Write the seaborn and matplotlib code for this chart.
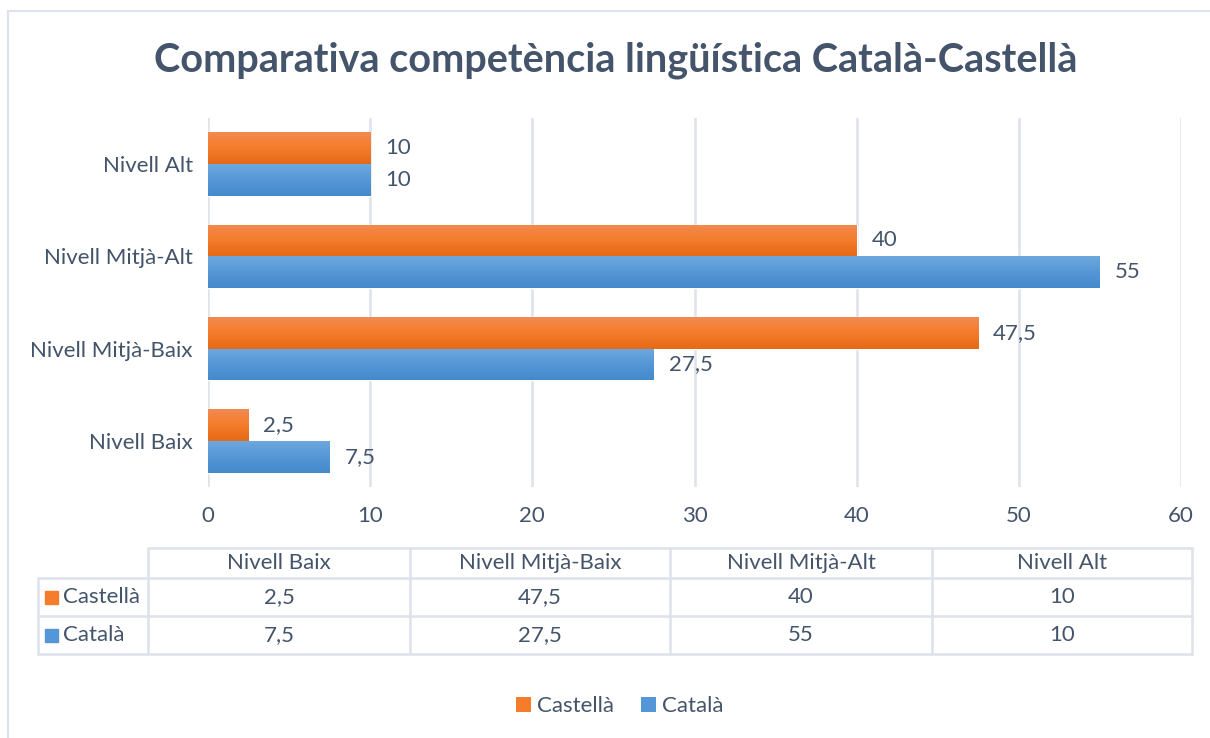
import numpy as np
import pandas as pd
import matplotlib
matplotlib.use('Agg')
import matplotlib.pyplot as plt
import seaborn as sns
from matplotlib.colors import LinearSegmentedColormap
from matplotlib.patches import Rectangle, Patch

levels = ['Nivell Baix', 'Nivell Mitjà-Baix', 'Nivell Mitjà-Alt', 'Nivell Alt']
castella = [2.5, 47.5, 40, 10]
catala = [7.5, 27.5, 55, 10]
series = ['Castellà', 'Català']
xticks = [0, 10, 20, 30, 40, 50, 60]

def fmt(v):
    return f'{v:g}'.replace('.', ',')

df = pd.DataFrame({
    'level': levels * 2,
    'value': castella + catala,
    'serie': ['Castellà'] * 4 + ['Català'] * 4,
})

txt = '#44546A'
grid = '#DDE3EA'
font = 'Lato'
fs = 16

sns.set_theme(style='white')
plt.rcParams['font.family'] = [font, 'DejaVu Sans']

fig = plt.figure(figsize=(12.1, 7.38), dpi=100)
W, H = 1210, 738

# outer chart border (runs off right/bottom)
fig.add_artist(Rectangle((7.5 / W, -0.1), 1.2, 1 - 10.5 / H + 0.1, transform=fig.transFigure,
                         fill=False, edgecolor='#DDE3EC', lw=1.5))

ax = fig.add_axes([208 / W, 1 - 487 / H, (1181 - 208) / W, (487 - 118) / H])
pal = {'Castellà': '#F47C2A', 'Català': '#5597D6'}
sns.barplot(data=df, y='level', x='value', hue='serie', order=levels[::-1],
            hue_order=series, palette=pal, orient='h', width=0.69, ax=ax,
            legend=False, saturation=1)

ax.set_xlim(0, 60)
ax.set_ylim(3.5, -0.5)
ax.set_xticks(xticks)
ax.set_xticklabels([str(t) for t in xticks])
for s in ax.spines.values():
    s.set_visible(False)
ax.grid(axis='x', color=grid, lw=1.8)
ax.set_axisbelow(True)
ax.set_xlabel('')
ax.set_ylabel('')
ax.tick_params(axis='x', length=0, pad=14, labelsize=fs, labelcolor=txt)
ax.tick_params(axis='y', length=0, pad=11, labelsize=fs, labelcolor=txt)

# gradient fill on bars
grads = {
    'Castellà': LinearSegmentedColormap.from_list('o', ['#F28A52', '#F47C2A', '#E56917']),
    'Català': LinearSegmentedColormap.from_list('b', ['#6DA8DE', '#5597D6', '#4589CC']),
}
for cont, name in zip(ax.containers, series):
    for bar, v in zip(cont, cont.datavalues):
        x0, y0 = bar.get_x(), bar.get_y()
        w, h = bar.get_width(), bar.get_height()
        im = ax.imshow(np.linspace(0, 1, 64).reshape(-1, 1), cmap=grads[name], aspect='auto',
                       extent=(x0, x0 + w, y0 + h, y0), zorder=bar.get_zorder() + 0.1)
        im.set_clip_path(bar)
        ax.text(x0 + w + 0.92, y0 + h / 2, fmt(v), va='center', ha='left',
                fontsize=fs, color=txt)
ax.set_xlim(0, 60)
ax.set_ylim(3.5, -0.5)

fig.text(616 / W, 1 - 60 / H, 'Comparativa competència lingüística Català-Castellà',
         ha='center', va='center', fontsize=28.5, fontweight='bold', color=txt)

# data table
tab = fig.add_axes([0, 0, 1, 1], facecolor='none')
tab.set_xlim(0, W)
tab.set_ylim(H, 0)
tab.axis('off')
cols = [148, 410, 670, 932, 1192]
rows = [548, 578, 616, 654]
lc = '#DDE3EA'
tab.plot([cols[0], cols[-1]], [rows[0], rows[0]], color=lc, lw=1.8)
for y in rows[1:]:
    tab.plot([38, cols[-1]], [y, y], color=lc, lw=1.8)
for x in cols:
    tab.plot([x, x], [rows[0], rows[-1]], color=lc, lw=1.8)
tab.plot([38, 38], [rows[1], rows[-1]], color=lc, lw=1.8)
for i, lv in enumerate(levels):
    cx = (cols[i] + cols[i + 1]) / 2
    tab.text(cx, (rows[0] + rows[1]) / 2, lv, ha='center', va='center', fontsize=fs, color=txt)
    for r, vals in enumerate([castella, catala]):
        tab.text(cx, (rows[r + 1] + rows[r + 2]) / 2, fmt(vals[i]), ha='center', va='center',
                 fontsize=fs, color=txt)
for r, name in enumerate(series):
    yc = (rows[r + 1] + rows[r + 2]) / 2
    tab.add_patch(Rectangle((45, yc - 6.5), 13, 13, color=pal[name]))
    tab.text(63, yc, name, ha='left', va='center', fontsize=fs, color=txt)

handles = [Patch(facecolor=pal[s], edgecolor='none', label=s) for s in series]
fig.legend(handles=handles, loc='center', bbox_to_anchor=(620 / W, 1 - 706 / H), ncol=2,
           frameon=False, fontsize=fs, labelcolor=txt, handlelength=0.65, handleheight=0.65,
           handletextpad=0.3, columnspacing=1.2)

fig.savefig('out.png', dpi=100)
